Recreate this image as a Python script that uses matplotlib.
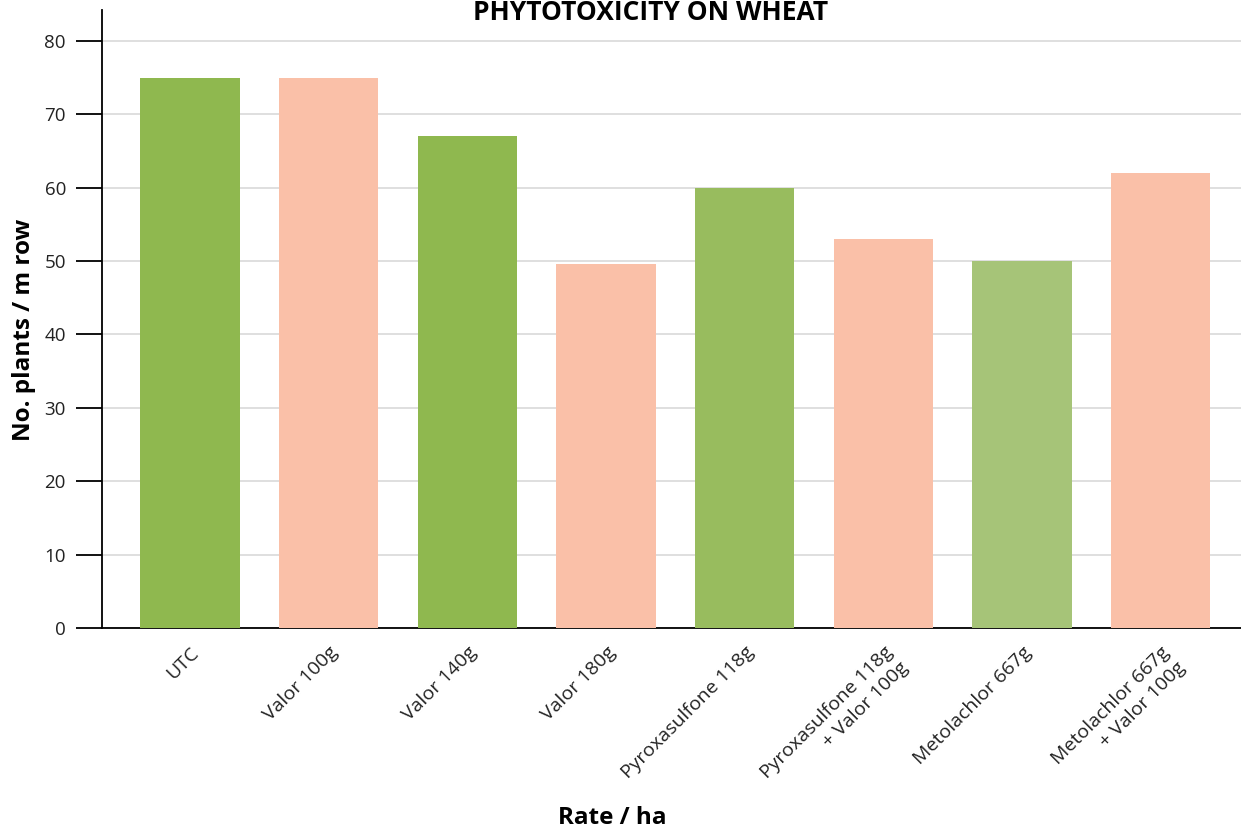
import matplotlib
matplotlib.use("Agg")
import matplotlib.pyplot as plt

categories = ["UTC", "Valor 100g", "Valor 140g", "Valor 180g", "Pyroxasulfone 118g",
              "Pyroxasulfone 118g\n+ Valor 100g", "Metolachlor 667g", "Metolachlor 667g\n+ Valor 100g"]
values = [75, 75, 67, 49.6, 60, 53, 50, 62]
colors = ["#8fb84f", "#fac0a8", "#8fb84f", "#fac0a8", "#98bc5e", "#fac0a8", "#a6c478", "#fac0a8"]
yticks = [0, 10, 20, 30, 40, 50, 60, 70, 80]

plt.rcParams['font.family'] = ['Open Sans', 'DejaVu Sans']

fig = plt.figure(figsize=(12.41, 8.32), dpi=100)
W, H = 1241, 832
ax = fig.add_axes([102 / W, (H - 628) / H, (W - 102) / W, (628 - 10) / H])

x = list(range(len(categories)))
ax.bar(x, values, width=0.715, color=colors, zorder=3)
ax.set_xlim(-0.635, 7.58)
ax.set_ylim(0, 84.2)
ax.set_yticks(yticks)
ax.set_yticklabels([str(t) for t in yticks], fontsize=13.5, color="#222222")
ax.yaxis.grid(True, color="#d9d9d9", linewidth=1.2, zorder=0)
ax.set_axisbelow(True)
for s in ["top", "right"]:
    ax.spines[s].set_visible(False)
ax.spines["left"].set_linewidth(1.3)
ax.spines["bottom"].set_linewidth(1.3)
ax.tick_params(axis="y", length=19, width=1.3, pad=7)
ax.tick_params(axis="x", length=0, pad=11)
ax.set_xticks(x)
ax.set_xticklabels(categories, rotation=45, ha="right", rotation_mode="anchor",
                   fontsize=14, color="#222222", multialignment="right", linespacing=1.3)

fig.text(24 / W, 1 - 330 / H, "No. plants / m row", rotation=90, ha="center", va="center",
         fontsize=17.5, fontweight="bold")
fig.text(612 / W, 1 - 818 / H, "Rate / ha", ha="center", va="center",
         fontsize=17.5, fontweight="bold")
fig.text(651 / W, 1 - 12 / H, "PHYTOTOXICITY ON WHEAT", ha="center", va="center",
         fontsize=19, fontweight="bold", family=["Liberation Sans Narrow", "Open Sans", "DejaVu Sans"])

fig.savefig("out.png", dpi=100)
